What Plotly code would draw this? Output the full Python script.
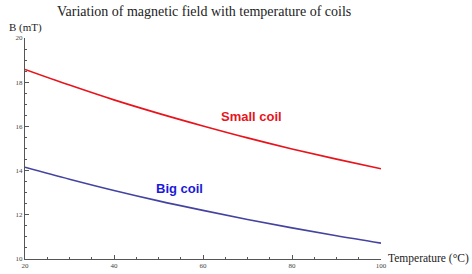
import plotly.graph_objects as go

temperature = [20, 30, 40, 50, 60, 70, 80, 90, 100]
small_coil = [18.58, 17.87, 17.20, 16.59, 16.02, 15.48, 14.98, 14.52, 14.08]
big_coil = [14.15, 13.61, 13.10, 12.63, 12.20, 11.79, 11.41, 11.05, 10.72]
x_ticks = [20, 40, 60, 80, 100]
y_ticks = [10, 12, 14, 16, 18, 20]

serif = "Liberation Serif, Times New Roman, serif"
sans = "Liberation Sans, Arial, sans-serif"

W, H = 472, 274
L, R, T, B = 25, 91, 38, 15
PH = H - T - B
PW = W - L - R


def py(p):
    return (H - B - p) / PH


def px(p):
    return (p - L) / PW


fig = go.Figure()
fig.add_trace(go.Scatter(x=temperature, y=small_coil, mode="lines", line=dict(color="#e8141c", width=1.6, shape="spline"), showlegend=False))
fig.add_trace(go.Scatter(x=temperature, y=big_coil, mode="lines", line=dict(color="#4444a0", width=1.6, shape="spline"), showlegend=False))

axis_common = dict(showgrid=False, zeroline=False, showline=True, linecolor="#555555", linewidth=1,
                   ticks="inside", ticklen=4, tickcolor="#555555", tickwidth=1, automargin=False,
                   tickfont=dict(family=serif, size=7, color="#444444"))
fig.update_xaxes(range=[20, 100], tickvals=x_ticks, minor=dict(dtick=5, ticks="inside", ticklen=2, tickcolor="#555555"), **axis_common)
fig.update_yaxes(range=[10, 20], tickvals=y_ticks, minor=dict(dtick=0.5, ticks="inside", ticklen=2, tickcolor="#555555"), **axis_common)

fig.add_annotation(x=70.8, y=16.47, text="<b>Small coil</b>", showarrow=False, font=dict(family=sans, size=13, color="#e8141c"))
fig.add_annotation(x=54.8, y=13.2, text="<b>Big coil</b>", showarrow=False, font=dict(family=sans, size=13, color="#1a1ad8"))
fig.add_annotation(x=px(204), y=py(12), xref="paper", yref="paper", text="Variation of magnetic field with temperature of coils",
                   showarrow=False, xanchor="center", yanchor="middle",
                   font=dict(family=serif, size=14, color="#222222"))
fig.add_annotation(x=px(7), y=py(28), xref="paper", yref="paper", text="B (mT)", showarrow=False, xanchor="left", yanchor="middle",
                   font=dict(family=serif, size=11, color="#222222"))
fig.add_annotation(x=px(386), y=py(258), xref="paper", yref="paper", text="Temperature (\u00b0C)", showarrow=False,
                   xanchor="left", yanchor="middle", font=dict(family=serif, size=11.5, color="#222222"))

fig.update_layout(width=W, height=H, margin=dict(l=L, r=R, t=T, b=B),
                  paper_bgcolor="white", plot_bgcolor="white")
fig.write_html("out.html")
